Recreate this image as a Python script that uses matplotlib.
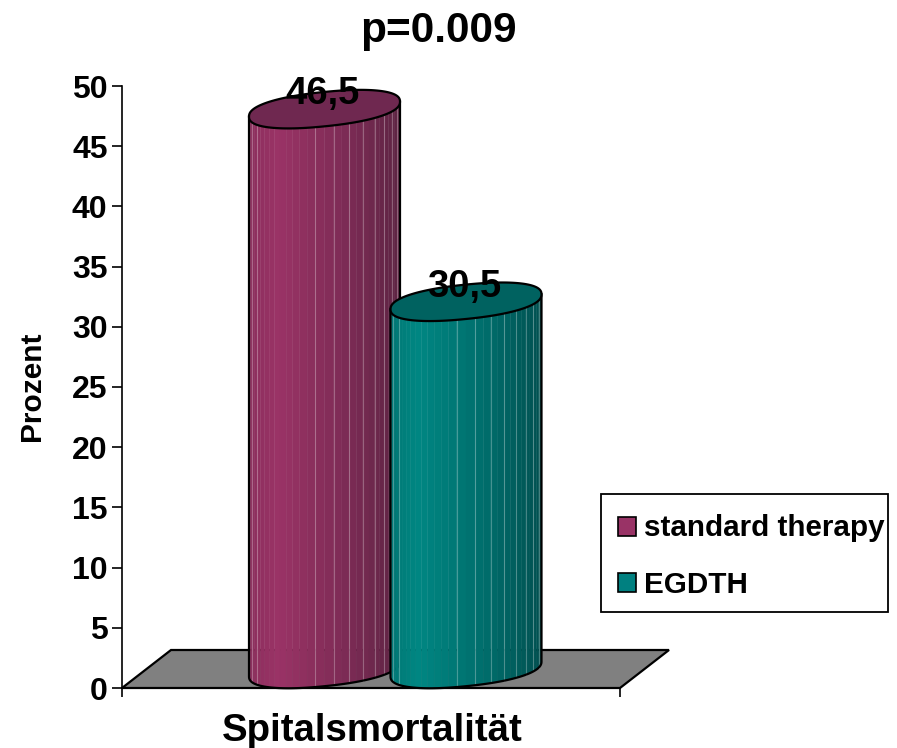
import numpy as np
import matplotlib
matplotlib.use('Agg')
import matplotlib.pyplot as plt
from matplotlib.patches import Patch, Polygon, Rectangle
from matplotlib.colors import to_rgb

plt.rcParams['font.family'] = ['Liberation Sans', 'DejaVu Sans']
plt.rcParams['font.weight'] = 'bold'

series = ['standard therapy', 'EGDTH']
values = [46.5, 30.5]
value_labels = ['46,5', '30,5']
y_ticks = [0, 5, 10, 15, 20, 25, 30, 35, 40, 45, 50]

light_colors = ['#9A3366', '#008682']
dark_colors = ['#5C2342', '#004F4F']
top_colors = ['#6F2850', '#006260']
legend_colors = ['#993366', '#008080']

W, H = 897, 748
fig = plt.figure(figsize=(W / 100, H / 100), dpi=100)
ax = fig.add_axes([122 / W, (H - 688) / H, 498 / W, 602 / H])
ax.set_xlim(0, 1)
ax.set_ylim(0, 50)

# 3D look, sizes in axis units
rx = 75.5 / 498
ry = 17.2 / 12.04
tilt = 7.5 / 12.04
floor_depth = 38 / 12.04
floor_shift = 49 / 498
centers = [(324.5 - 122) / 498, (466 - 122) / 498]


def ring(cx, cy, t):
    # slightly squarer than an ellipse, like the original cap
    c = np.sign(np.cos(t)) * np.abs(np.cos(t)) ** 0.9
    s = np.sign(np.sin(t)) * np.abs(np.sin(t)) ** 0.85
    return cx + rx * c, cy + ry * s + tilt * c


def cylinder(cx, val, light, dark, top):
    base = floor_depth / 2
    light, dark = np.array(to_rgb(light)), np.array(to_rgb(dark))
    # facets, front half of the ring from left to right
    edges = np.linspace(np.pi, 2 * np.pi, 33)
    for i in range(len(edges) - 1):
        t = np.linspace(edges[i], edges[i + 1], 5)
        x, y = ring(cx, base, t)
        xt, yt = ring(cx, base + val, t[::-1])
        pos = (np.cos(edges[i]) + 1) / 2 if i else 0
        k = max(0, (pos - 0.18) / 0.82) ** 1.1
        col = light * (1 - k) + dark * k
        if pos < 0.18:
            col = light * (0.9 + 0.1 * pos / 0.18)
        ax.fill(np.r_[x, xt], np.r_[y, yt], color=col, lw=0.3, clip_on=False, zorder=3)
        if i % 2 == 1 and not 0.1 < pos < 0.4:
            ax.plot([x[0], xt[-1]], [y[0], yt[-1]], color='white', alpha=0.28, lw=0.8,
                    clip_on=False, zorder=3)
    # outline
    t = np.linspace(np.pi, 2 * np.pi, 80)
    x, y = ring(cx, base, t)
    xt, yt = ring(cx, base + val, t[::-1])
    ax.plot(np.r_[xt[-1], x, xt[0]], np.r_[yt[-1], y, yt[0]], color='black', lw=1.6,
            clip_on=False, zorder=3)
    # top cap
    t = np.linspace(0, 2 * np.pi, 160)
    x, y = ring(cx, base + val, t)
    ax.fill(x, y, facecolor=top, edgecolor='black', lw=1.6, clip_on=False, zorder=3)


# floor
ax.add_patch(Polygon([(0, 0), (1, 0), (1 + floor_shift, floor_depth), (floor_shift, floor_depth)],
                     facecolor='#808080', edgecolor='black', lw=1.6, clip_on=False, zorder=2))

for cx, val, lc, dc, tc in zip(centers, values, light_colors, dark_colors, top_colors):
    cylinder(cx, val, lc, dc, tc)

for cx, val, lab in zip(centers, values, value_labels):
    ax.text(cx - 0.003, val + 1.3, lab, ha='center', va='bottom', fontsize=27.5,
            color='black', zorder=5, clip_on=False)

ax.set_yticks(y_ticks)
ax.set_xticks([0, 1])
ax.set_xticklabels([])
ax.tick_params(axis='y', length=7.2, width=1.2, labelsize=23, pad=3.2)
ax.tick_params(axis='x', length=6.5, width=1.2)
for s in ['top', 'right']:
    ax.spines[s].set_visible(False)
for s in ['left', 'bottom']:
    ax.spines[s].set_linewidth(1.2)
ax.patch.set_alpha(0)

fig.text(438 / W, 1 - 31 / H, 'p=0.009', ha='center', va='center', fontsize=30.5)
fig.text(372 / W, 1 - 731 / H, 'Spitalsmortalität', ha='center', va='center', fontsize=27.6)
fig.text(32 / W, 1 - 386 / H, 'Prozent', ha='center', va='center', rotation=90, fontsize=21.5)

# legend box is narrower than matplotlib's padding allows, so frame drawn apart
fig.add_artist(Rectangle((601 / W, 1 - 612 / H), 287 / W, 118 / H, transform=fig.transFigure,
                         facecolor='white', edgecolor='black', lw=1.3))
handles = [Patch(facecolor=c, edgecolor='black', lw=1.2) for c in legend_colors]
leg = fig.legend(handles, series, loc='center left', bbox_to_anchor=(618 / W, 1 - 556.5 / H),
                 borderaxespad=0, fontsize=21.3, frameon=False, handlelength=0.61,
                 handleheight=0.61, handletextpad=0.27, labelspacing=0.95, borderpad=0)

fig.savefig('out.png', dpi=100)
